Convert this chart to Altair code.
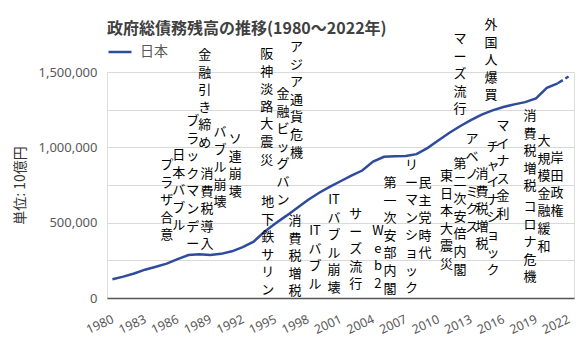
import altair as alt
import pandas as pd

# ---- data ----
YEARS = list(range(1980, 2023))
DEBT = [124000, 142000, 163000, 188000, 207000, 228000, 258000, 285000, 290000, 286000,
        293000, 310000, 338000, 374000, 440000, 495000, 545000, 598000, 650000, 697000,
        737000, 775000, 812000, 846000, 905000, 937000, 940000, 942000, 955000, 995000,
        1045000, 1095000, 1140000, 1180000, 1217000, 1245000, 1268000, 1285000, 1300000,
        1325000, 1395000, 1425000, 1470000]
SERIES = "日本"

ANNOT_TEXT = ["プラザ合意", "日本バブル", "ブラックマンデー", "金融引き締め", "消費税導入",
              "バブル崩壊", "ソ連崩壊", "阪神淡路大震災", "地下鉄サリン", "金融ビッグバン",
              "アジア通貨危機", "消費税増税", "ITバブル", "ITバブル崩壊", "サーズ流行",
              "Web2", "第一次安部内閣", "リーマンショック", "民主党時代", "東日本大震災",
              "第二次安倍内閣", "アベノミクス", "消費税増税", "マーズ流行", "外国人爆買",
              "チャイナショック", "マイナス金利", "消費税増税", "コロナ危機", "大規模金融緩和",
              "岸田政権"]
ANNOT_YEAR = [1985.0, 1986.1, 1987.4, 1988.5, 1988.7,
              1989.9, 1991.3, 1994.2, 1994.3, 1995.7,
              1996.95, 1996.8, 1998.65, 2000.4, 2002.4,
              2004.45, 2005.56, 2007.54, 2008.78, 2010.76,
              2012.0, 2013.11, 2014.03, 2012.0, 2014.86,
              2015.04, 2015.96, 2018.45, 2018.45, 2019.74,
              2020.94]
ANNOT_VALUE = [922600, 989000, 1214600, 1652700, 862800,
               1141600, 1095100, 1659300, 677000, 1393800,
               1705800, 550900, 484500, 690300, 597300,
               484500, 803100, 922600, 803100, 849600,
               929200, 1095100, 862800, 1758900, 1851800,
               1042000, 1181400, 1247800, 643800, 1081900,
               969000]

X_TICKS = list(range(1980, 2023, 3))
Y_TICKS = [0, 250000, 500000, 750000, 1000000, 1250000, 1500000]


def vertical(s):
    toks = []
    i = 0
    while i < len(s):
        if s[i:i + 2] == "IT":
            toks.append("IT")
            i += 2
        else:
            toks.append(s[i])
            i += 1
    return "\n".join(toks)


df = pd.DataFrame({"year": YEARS, "debt": DEBT, "series": SERIES})
df_est = df[df["year"] >= 2021]
df_solid = df[df["year"] <= 2021]
ann = pd.DataFrame({"label": [vertical(t) for t in ANNOT_TEXT],
                    "year": ANNOT_YEAR, "value": ANNOT_VALUE})

BLUE = "#2F4C9C"
xscale = alt.Scale(domain=[1979.5, 2022.5], nice=False, zero=False)
yscale = alt.Scale(domain=[0, 1500000], nice=False)

x_axis = alt.Axis(values=X_TICKS, format="d", labelAngle=-25, labelAlign="right",
                  labelBaseline="middle", labelPadding=20, ticks=False, grid=False,
                  labelOverlap=False, labelBound=False,
                  domainColor="#555555", domainWidth=1.5, labelFontSize=12.5,
                  labelColor="#595959", labelFont="Noto Sans", title=None)
y_axis = alt.Axis(values=Y_TICKS, labelExpr="datum.value % 500000 == 0 ? format(datum.value, ',d') : ''",
                  ticks=False, domain=False, gridColor="#d9d9d9", gridWidth=1,
                  labelFontSize=13, labelColor="#595959", labelFont="Noto Sans",
                  labelOverlap=False,
                  labelPadding=10, title="単位: 10億円", titleFont="Noto Sans CJK JP",
                  titleFontSize=14, titleFontWeight="normal", titleColor="#333333",
                  titlePadding=10)

X = alt.X("year:Q", scale=xscale, axis=x_axis)
line = alt.Chart(df_solid).mark_line(strokeWidth=2.5).encode(
    x=X,
    y=alt.Y("debt:Q", scale=yscale, axis=y_axis),
    color=alt.Color("series:N", scale=alt.Scale(domain=[SERIES], range=[BLUE]),
                    legend=alt.Legend(title=None, orient="none", legendX=0, legendY=-33,
                                      symbolType="stroke", symbolSize=529,
                                      symbolStrokeWidth=2.5, labelFontSize=14,
                                      labelFont="Noto Sans CJK JP", labelColor="#595959",
                                      labelOffset=7, padding=0)),
)
dashed = alt.Chart(df_est).mark_line(strokeWidth=2.5, strokeDash=[6, 3], color=BLUE).encode(
    x=X,
    y=alt.Y("debt:Q", scale=yscale, axis=y_axis),
)
texts = alt.Chart(ann).mark_text(align="center", baseline="top", lineBreak="\n",
                                 lineHeight=17.6, fontSize=13, font="Noto Sans CJK JP",
                                 color="#000000").encode(
    x=X,
    y=alt.Y("value:Q", scale=yscale, axis=y_axis),
    text="label:N",
)

chart = alt.layer(line, dashed, texts).properties(
    width=467, height=226,
    title=alt.TitleParams("政府総債務残高の推移(1980～2022年)", anchor="start", frame="group",
                          font="Noto Sans CJK JP", fontSize=16, fontWeight="bold",
                          color="#404040", offset=-18),
    autosize=alt.AutoSizeParams(type="none"),
    padding={"left": 107, "top": 72, "right": 12, "bottom": 54},
).configure_view(stroke=None).configure(background="white").configure_axisX(
    labelOverlap=False
)

chart.save("out.html", embed_options={"renderer": "svg", "actions": False})
